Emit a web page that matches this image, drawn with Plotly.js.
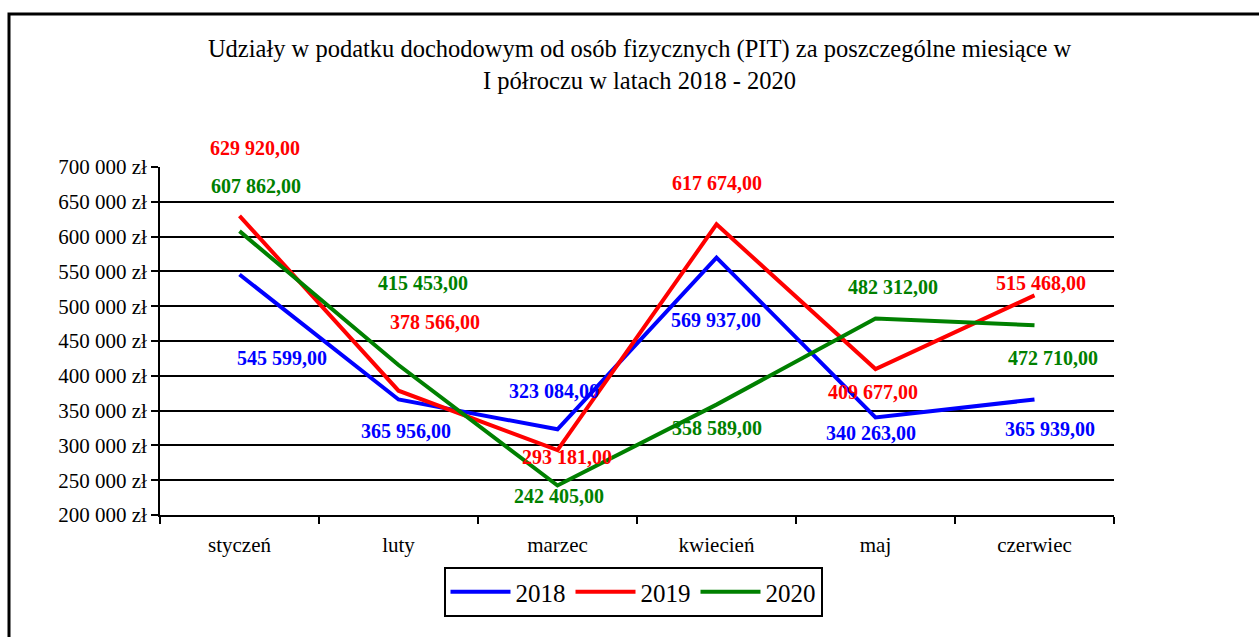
<!DOCTYPE html>
<html><head><meta charset="utf-8">
<script src="https://cdn.plot.ly/plotly-3.0.1.min.js"></script>
<style>body{margin:0;padding:0;background:#fff}#chart{width:1259px;height:637px}</style>
</head><body><div id="chart"></div>
<script>
var months = ['styczeń','luty','marzec','kwiecień','maj','czerwiec'];
var years = ['2018','2019','2020'];
var v2018 = [545599, 365956, 323084, 569937, 340263, 365939];
var v2019 = [629920, 378566, 293181, 617674, 409677, 515468];
var v2020 = [607862, 415453, 242405, 358589, 482312, 472710];
var colors = ['#0000FF','#FF0000','#008000'];
// label offsets in pixels [dx, dy(down)] per point
var off2018 = [[42,84],[7,32],[-4,-38],[-1,62],[-5,16],[15,29]];
var off2019 = [[15,-68],[36,-69],[9,7],[0,-41],[-3,23],[6,-12]];
var off2020 = [[16,-45],[24,-82],[1,11],[0,23],[17,-32],[18,33]];

var series = [v2018, v2019, v2020];
var offs = [off2018, off2019, off2020];
var SERIF = '"Liberation Serif", "Times New Roman", serif';

var traces = series.map(function(vals, k){
  return {x: months, y: vals, type:'scatter', mode:'lines', name: years[k],
    line:{color: colors[k], width:4}, hoverinfo:'skip'};
});

function fmt(v){
  var s = String(v).replace(/\B(?=(\d{3})+(?!\d))/g, ' ');
  return '<b>' + s + ',00</b>';
}
var annotations = [];
series.forEach(function(vals, k){
  vals.forEach(function(v, i){
    annotations.push({x: months[i], y: v, xref:'x', yref:'y', text: fmt(v), showarrow:false,
      xshift: offs[k][i][0], yshift: -offs[k][i][1],
      font:{family:SERIF, size:20, color: colors[k]}});
  });
});

var L=160, R=145, T=167, B=122, W=1259, H=637;
var pw = W-L-R, ph = H-T-B;
var layout = {
  width:W, height:H, margin:{l:L, r:R, t:T, b:B},
  paper_bgcolor:'#fff', plot_bgcolor:'#fff',
  separators:', ',
  font:{family:SERIF, color:'#000'},
  title:{text:'Udziały w podatku dochodowym od osób fizycznych (PIT) za poszczególne miesiące w<br>I półroczu w latach 2018 - 2020',
    x:0.508, xref:'container', y:1-57/637, yref:'container', yanchor:'middle', xanchor:'center',
    font:{family:SERIF, size:24.5, color:'#000'}},
  xaxis:{type:'category', range:[-0.5,5.5],
    showgrid:false, zeroline:false, showline:true, linecolor:'#000', linewidth:2,
    ticks:'outside', tickson:'boundaries', ticklen:7, tickwidth:2, tickcolor:'#000',
    ticklabelstandoff:10, tickfont:{size:21, family:SERIF, color:'#000'}, fixedrange:true},
  yaxis:{range:[200000,700000], dtick:50000, tick0:200000, tickformat:',.0f', ticksuffix:' zł',
    showgrid:true, gridcolor:'#000', gridwidth:2, zeroline:false,
    showline:true, linecolor:'#000', linewidth:2,
    ticks:'outside', ticklen:7, tickwidth:2, tickcolor:'#000',
    tickfont:{size:21, family:SERIF, color:'#000'}, fixedrange:true},
  showlegend:true,
  legend:{orientation:'h', x:(633-L)/pw, xanchor:'center', y:(515-567)/ph, yanchor:'top',
    bordercolor:'#000', borderwidth:2, bgcolor:'#fff', itemwidth:60,
    font:{size:25, family:SERIF, color:'#000'}},
  annotations: annotations,
  shapes:[{type:'rect', xref:'paper', yref:'paper',
    x0:(9-L)/pw, x1:(1265-L)/pw, y0:(515-645)/ph, y1:(515-14)/ph,
    line:{color:'#000', width:3}, fillcolor:'rgba(0,0,0,0)', layer:'below'}]
};
Plotly.newPlot('chart', traces, layout, {displayModeBar:false, staticPlot:true});
</script></body></html>
